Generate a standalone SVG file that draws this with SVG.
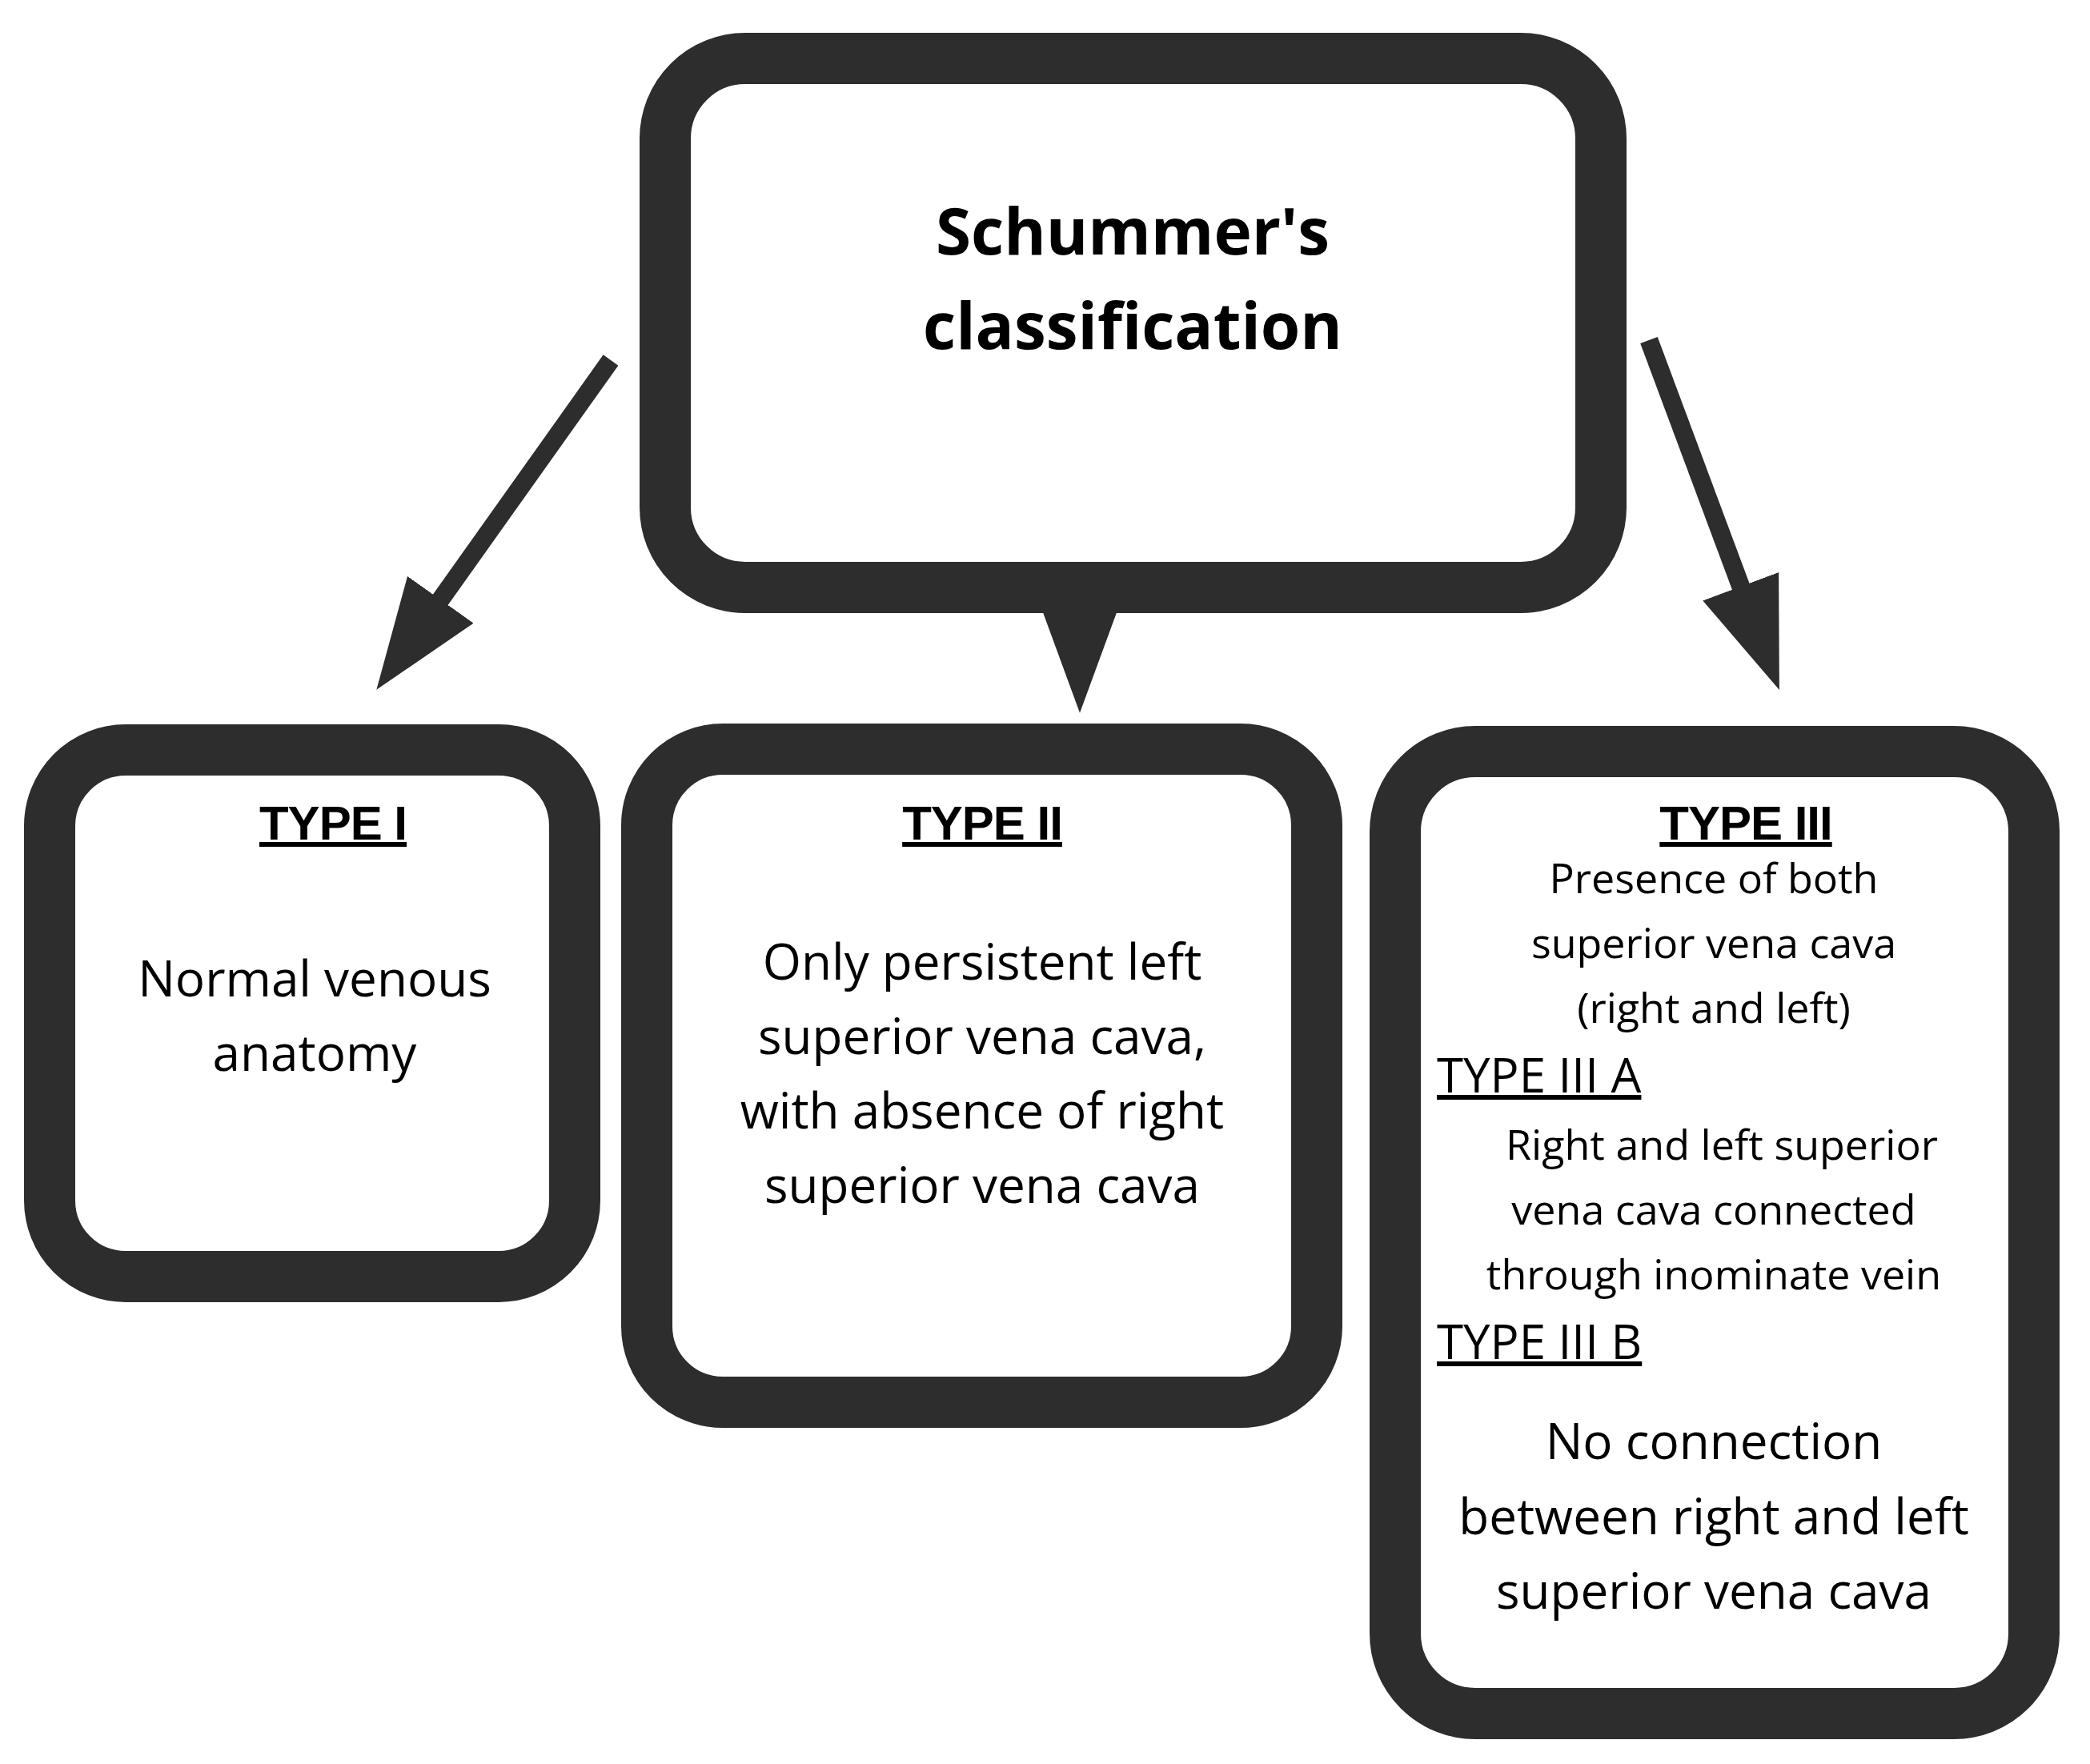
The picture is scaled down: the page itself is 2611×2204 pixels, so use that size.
<svg xmlns="http://www.w3.org/2000/svg" width="2611" height="2204" viewBox="0 0 2611 2204">
<style>
.box{fill:#fff;stroke:#2d2d2d;stroke-width:64}
.t{font-family:"Open Sans","Noto Sans",sans-serif;fill:#000;text-anchor:middle}
.h{font-family:"Liberation Sans",sans-serif;font-weight:bold;font-size:60px;text-decoration:underline;text-anchor:middle;letter-spacing:-1px}
.c{stroke:#2d2d2d;stroke-width:23;fill:none}
</style>
<defs><marker id="ah" markerUnits="strokeWidth" markerWidth="6" markerHeight="4.4" refX="3.4" refY="2.2" orient="auto"><path d="M0,0 L6,2.2 L0,4.4 z" fill="#2d2d2d"/></marker></defs>
<rect width="2611" height="2204" fill="#fff"/>
<g id="root"><rect class="box" x="831" y="73" width="1169" height="661" rx="100"/>
<text class="t" x="1415" y="318" font-size="80" font-weight="bold" font-family="Montserrat,'Open Sans',sans-serif">Schummer's</text>
<text class="t" x="1415" y="436" font-size="80" font-weight="bold">classification</text></g>
<g id="type1"><rect class="box" x="62" y="937" width="656" height="658" rx="95"/>
<text class="h" x="416" y="1049">TYPE I</text>
<text class="t" x="393" y="1245" font-size="62">Normal venous</text>
<text class="t" x="393" y="1338" font-size="62">anatomy</text></g>
<g id="type2"><rect class="box" x="808" y="936" width="837" height="816" rx="95"/>
<text class="h" x="1227" y="1049">TYPE II</text>
<g class="t" font-size="62"><text x="1227" y="1224">Only persistent left</text><text x="1227" y="1317">superior vena cava,</text><text x="1227" y="1410">with absence of right</text><text x="1227" y="1503">superior vena cava</text></g></g>
<g id="type3"><rect class="box" x="1743" y="939" width="798" height="1202" rx="100"/>
<text class="h" x="2181" y="1049">TYPE III</text>
<g class="t" font-size="52"><text x="2141" y="1116">Presence of both</text><text x="2141" y="1197">superior vena cava</text><text x="2141" y="1278">(right and left)</text>
<text x="2151" y="1449">Right and left superior</text><text x="2141" y="1530">vena cava connected</text><text x="2141" y="1611">through inominate vein</text></g>
<g font-family="'Open Sans',sans-serif" font-size="60" text-decoration="underline"><text x="1795" y="1365">TYPE III A</text><text x="1795" y="1698">TYPE III B</text></g>
<g class="t" font-size="62"><text x="2141" y="1823">No connection</text><text x="2141" y="1917">between right and left</text><text x="2141" y="2010">superior vena cava</text></g></g>
<g id="connectors">
<line class="c" x1="763" y1="450" x2="505" y2="813" marker-end="url(#ah)"/>
<line class="c" x1="1349" y1="740" x2="1349" y2="831" marker-end="url(#ah)"/>
<line class="c" x1="2060" y1="425" x2="2202" y2="806" marker-end="url(#ah)"/>
</g>
</svg>
